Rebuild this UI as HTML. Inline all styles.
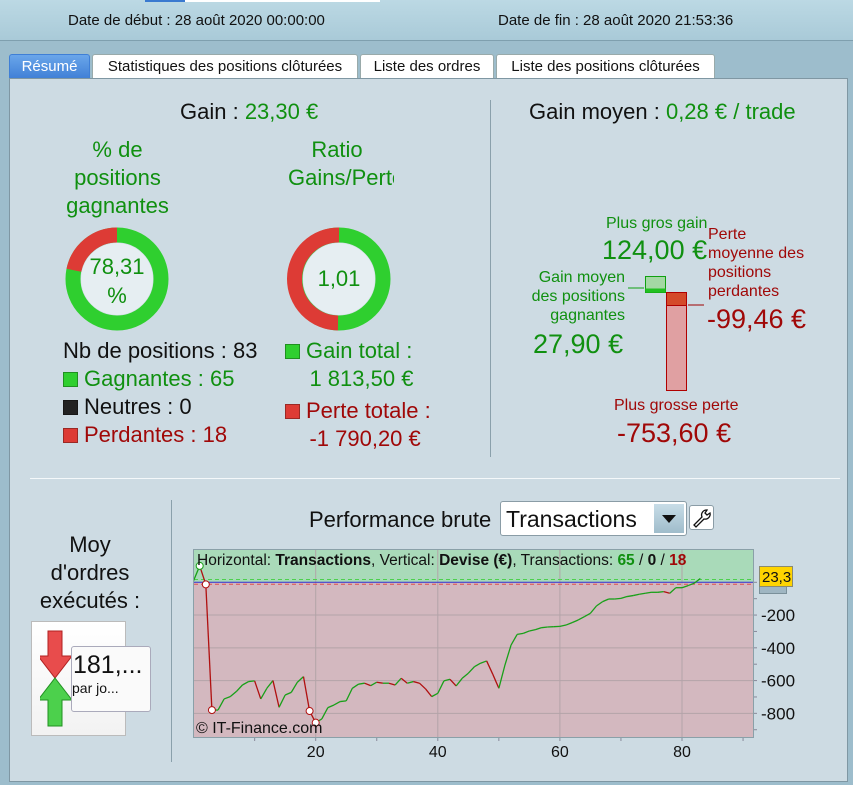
<!DOCTYPE html>
<html><head><meta charset="utf-8"><style>
*{margin:0;padding:0;box-sizing:border-box}
body{width:853px;height:785px;overflow:hidden;background:#9dbdcc;font-family:"Liberation Sans",sans-serif;position:relative}
.abs{position:absolute}
.g{color:#109010}.r{color:#a00808}.k{color:#111}
.tab{position:absolute;top:54px;height:25px;background:#fff;border:1px solid #9aa;border-bottom:none;font-size:15px;line-height:24px;text-align:center;color:#111;border-radius:3px 3px 0 0}
.sq{display:inline-block;width:15px;height:15px;border:1px solid rgba(0,0,0,.3);vertical-align:-1px;margin-right:6px}
</style></head><body>
<div class="abs" style="left:0;top:0;width:853px;height:41px;background:linear-gradient(#bcd9e4,#a9cad8);border-bottom:1px solid #7f9fae"></div>
<div class="abs" style="left:145px;top:0;width:235px;height:2px;background:#fff"></div>
<div class="abs" style="left:145px;top:0;width:40px;height:2px;background:#3a7ad0"></div>
<div class="abs k" style="left:68px;top:12px;font-size:15px">Date de début : 28 août 2020 00:00:00</div>
<div class="abs k" style="left:498px;top:12px;font-size:15px">Date de fin : 28 août 2020 21:53:36</div>
<div class="tab" style="left:9px;width:81px;background:linear-gradient(#6aa6ea,#3f7fd6);color:#fff;border-color:#3f7fd6">Résumé</div>
<div class="tab" style="left:92px;width:266px">Statistiques des positions clôturées</div>
<div class="tab" style="left:360px;width:134px">Liste des ordres</div>
<div class="tab" style="left:496px;width:219px">Liste des positions clôturées</div>
<div class="abs" style="left:9px;top:78px;width:839px;height:704px;background:#cddbe3;border:1px solid #7f97a3"></div>
<div class="abs" style="left:490px;top:100px;width:1px;height:357px;background:#8aa0ab"></div>
<div class="abs" style="left:30px;top:478px;width:810px;height:1px;background:#f4f8fa"></div>
<div class="abs" style="left:171px;top:500px;width:1px;height:262px;background:#8aa0ab"></div>

<div class="abs k" style="left:180px;top:99px;font-size:22px">Gain : <span class="g">23,30 €</span></div>
<div class="abs g" style="left:50px;top:136px;width:135px;text-align:center;font-size:22px;line-height:28px">% de positions gagnantes</div>
<div class="abs g" style="left:280px;top:136px;width:114px;text-align:center;font-size:22px;line-height:28px;overflow:hidden;white-space:nowrap">Ratio<br><span style="display:inline-block;width:114px;text-align:left;padding-left:8px">Gains/Pertes</span></div>

<svg class="abs" style="left:0;top:0" width="853" height="785">
 <g>
  <circle cx="117" cy="279" r="44" fill="none" stroke="#2fcf2f" stroke-width="15"/>
  <path d="M117 235 A44 44 0 0 0 73.9 270.2" fill="none" stroke="#dd3b35" stroke-width="15"/>
  <circle cx="117" cy="279" r="36" fill="#e6eef2"/>
 </g>
 <g>
  <circle cx="339" cy="279" r="44" fill="none" stroke="#2fcf2f" stroke-width="15"/>
  <path d="M339 235 A44 44 0 0 0 338 323" fill="none" stroke="#dd3b35" stroke-width="15"/>
  <circle cx="339" cy="279" r="36" fill="#e6eef2"/>
 </g>
 <g>
  <rect x="645.5" y="276.5" width="20" height="16" fill="#a4d8a4" stroke="#10a010"/>
  <rect x="645.5" y="288.5" width="20" height="4" fill="#22c022"/>
  <line x1="628" y1="288" x2="644" y2="288" stroke="#10a010"/>
  <rect x="666.5" y="292.5" width="20" height="98" fill="#e0a0a2" stroke="#b00000"/>
  <rect x="666.5" y="292.5" width="20" height="13" fill="#d44a2a" stroke="#b00000"/>
  <line x1="688" y1="305" x2="704" y2="305" stroke="#a00000"/>
 </g>
</svg>
<div class="abs g" style="left:77px;top:252px;width:80px;text-align:center;font-size:22px;line-height:29px">78,31<br>%</div>
<div class="abs g" style="left:309px;top:266px;width:60px;text-align:center;font-size:22px">1,01</div>

<div class="abs k" style="left:63px;top:338px;font-size:22px">Nb de positions : 83</div>
<div class="abs g" style="left:63px;top:366px;font-size:22px"><span class="sq" style="background:#2fcf2f"></span>Gagnantes : 65</div>
<div class="abs k" style="left:63px;top:394px;font-size:22px"><span class="sq" style="background:#222"></span>Neutres : 0</div>
<div class="abs r" style="left:63px;top:422px;font-size:22px"><span class="sq" style="background:#dd3b35"></span>Perdantes : 18</div>
<div class="abs g" style="left:285px;top:337px;font-size:22px;line-height:28px"><span class="sq" style="background:#2fcf2f"></span>Gain total :<br>&nbsp;&nbsp;&nbsp;&nbsp;1 813,50 €</div>
<div class="abs r" style="left:285px;top:397px;font-size:22px;line-height:28px"><span class="sq" style="background:#dd3b35"></span>Perte totale :<br>&nbsp;&nbsp;&nbsp;&nbsp;-1 790,20 €</div>

<div class="abs k" style="left:529px;top:99px;font-size:22px">Gain moyen : <span class="g">0,28 € / trade</span></div>
<div class="abs g" style="left:606px;top:215px;font-size:16px">Plus gros gain</div>
<div class="abs g" style="left:602px;top:235px;font-size:27px">124,00 €</div>
<div class="abs g" style="left:515px;top:268px;width:110px;text-align:right;font-size:16px;line-height:19px">Gain moyen des positions gagnantes</div>
<div class="abs g" style="left:533px;top:329px;font-size:27px">27,90 €</div>
<div class="abs r" style="left:708px;top:225px;width:105px;font-size:16px;line-height:19px">Perte moyenne des positions perdantes</div>
<div class="abs r" style="left:707px;top:304px;font-size:27px">-99,46 €</div>
<div class="abs r" style="left:614px;top:397px;font-size:16px">Plus grosse perte</div>
<div class="abs r" style="left:617px;top:418px;font-size:27px">-753,60 €</div>

<div class="abs k" style="left:25px;top:531px;width:130px;text-align:center;font-size:22px;line-height:28px">Moy<br>d'ordres<br>exécutés :</div>
<div class="abs" style="left:31px;top:621px;width:95px;height:115px;background:linear-gradient(#fff,#f2f2f2);border:1px solid #bbb"></div>
<svg class="abs" style="left:40px;top:628px" width="40" height="100">
 <path d="M8 3h14v25h10L15 50 -2 28h10z" fill="#e84c4c" stroke="#b02020"/>
 <path d="M15 50L32 72h-10v26H8V72h-10z" fill="#4cd04c" stroke="#209020"/>
</svg>
<div class="abs" style="left:71px;top:646px;width:80px;height:66px;background:#fafafa;border:1px solid #aab;border-radius:3px;overflow:hidden">
 <div class="k" style="font-size:25px;margin:4px 0 0 1px">181,...</div>
 <div class="k" style="font-size:14px;margin-left:0">par jo...</div>
</div>

<div class="abs k" style="left:309px;top:507px;font-size:22px">Performance brute</div>
<div class="abs" style="left:500px;top:501px;width:187px;height:35px;background:#fff;border:1px solid #8a9ca6;border-radius:3px">
 <span class="k" style="position:absolute;left:5px;top:4px;font-size:23px">Transactions</span>
 <span style="position:absolute;right:2px;top:2px;width:30px;height:29px;background:linear-gradient(#c8dde8,#9fbccb)"><span style="position:absolute;left:8px;top:11px;border-left:7px solid transparent;border-right:7px solid transparent;border-top:8px solid #111"></span></span>
</div>
<div class="abs" style="left:689px;top:505px;width:25px;height:25px;background:#fff;border:1px solid #8a9ca6;border-radius:3px">
 <svg width="23" height="23" style="position:absolute;left:0;top:0"><path d="M4 19 L12 11 A5 5 0 0 1 17 4 L15 7 L17 9 L20 7 A5 5 0 0 1 14 13 L6 21 Z" fill="#fff" stroke="#111" stroke-width="1.3"/></svg>
</div>

<svg id="chart" class="abs" style="left:0;top:0" width="853" height="785"></svg>
<script>
const tradeIndex=[0,1,2,3,4,5,6,7,8,9,10,11,12,13,14,15,16,17,18,19,20,21,22,23,24,25,26,27,28,29,30,31,32,33,34,35,36,37,38,39,40,41,42,43,44,45,46,47,48,49,50,51,52,53,54,55,56,57,58,59,60,61,62,63,64,65,66,67,68,69,70,71,72,73,74,75,76,77,78,79,80,81,82,83];
const equity=[10,100,-13,-780,-780,-712,-698,-667,-627,-606,-602,-712,-647,-600,-763,-688,-672,-610,-576,-786,-857,-834,-765,-749,-728,-724,-647,-622,-616,-631,-610,-616,-616,-627,-586,-616,-606,-616,-651,-698,-678,-602,-592,-633,-586,-555,-515,-494,-480,-561,-647,-505,-383,-318,-312,-297,-289,-277,-273,-271,-269,-261,-246,-230,-210,-189,-144,-118,-102,-102,-98,-87,-81,-73,-67,-61,-61,-57,-67,-33,-33,-20,-6,23.3];
const markedPoints=[1,2,3,19,20];
const xTicks=[20,40,60,80];
const yTicks=[-200,-400,-600,-800];
const finalValue="23,3";
const NS="http://www.w3.org/2000/svg";
const svg=document.getElementById('chart');
const L=194,R=753,T=550,B=737;
const xs=i=>193.6+6.105*i;
const ys=v=>582.3-0.1638*v;
function mk(tag,attrs,parent){const e=document.createElementNS(NS,tag);for(const k in attrs)e.setAttribute(k,attrs[k]);(parent||svg).appendChild(e);return e;}
let e;
e=mk('rect',{x:L,y:T,width:R-L,height:ys(0)-T,fill:'#a9dab9'});


e=mk('rect',{x:L,y:ys(0),width:R-L,height:B-ys(0),fill:'#d3b8bf'});


for(let v=10;v<=90;v+=10){
 const x=xs(v);
 if(v%20===0){e=mk('line',{x1:x,y1:T,x2:x,y2:B,stroke:'#b3a3a8'});
 
 }
 e=mk('line',{x1:x,y1:B,x2:x,y2:B+4,stroke:'#889'});
 
 
}
for(let v=0;v>=-900;v-=100){
 const y=ys(v);
 e=mk('line',{x1:R,y1:y,x2:R+4,y2:y,stroke:'#889'});
 
 
}
yTicks.forEach(v=>{
 e=mk('line',{x1:L,y1:ys(v),x2:R,y2:ys(v),stroke:'#b3a3a8'});
 
 
 e=mk('text',{x:761,y:ys(v)+6,'font-size':17,fill:'#111','font-family':'Liberation Sans'});
 e.textContent=String(v);
 
 
});
xTicks.forEach(v=>{
 e=mk('text',{x:xs(v),y:757,'font-size':16,fill:'#111','text-anchor':'middle','font-family':'Liberation Sans'});
 e.textContent=v;
 
 
});
e=mk('line',{x1:L,y1:ys(equity[equity.length-1])+1,x2:R,y2:ys(equity[equity.length-1])+1,stroke:'#4cd04c','stroke-dasharray':'4,3'});


e=mk('line',{x1:L,y1:ys(0)+2,x2:R,y2:ys(0)+2,stroke:'#e05050','stroke-dasharray':'4,3'});


e=mk('line',{x1:L,y1:ys(0),x2:R,y2:ys(0),stroke:'#3030d0'});


for(let k=1;k<equity.length;k++){
 const up=equity[k]>=equity[k-1];
 e=mk('line',{x1:xs(tradeIndex[k-1]),y1:ys(equity[k-1]),x2:xs(tradeIndex[k]),y2:ys(equity[k]),stroke:up?'#18a018':'#b01010','stroke-width':1.3});
 
 
}
markedPoints.forEach(i=>{
 e=mk('circle',{cx:xs(tradeIndex[i]),cy:ys(equity[i]),r:3.5,fill:'#fff',stroke:i===1?'#18a018':'#b01010'});
 
 
});
e=mk('rect',{x:L-0.5,y:T-0.5,width:R-L+1,height:B-T+1,fill:'none',stroke:'#8aa0a8'});


e=mk('text',{x:197,y:565,'font-size':15.5,fill:'#111','font-family':'Liberation Sans'});
e.innerHTML='Horizontal: <tspan font-weight="bold">Transactions</tspan>, Vertical: <tspan font-weight="bold">Devise (€)</tspan>, Transactions: <tspan font-weight="bold" fill="#109010">65</tspan> / <tspan font-weight="bold">0</tspan> / <tspan font-weight="bold" fill="#a00808">18</tspan>';


e=mk('text',{x:196,y:733,'font-size':16,fill:'#111','font-family':'Liberation Sans'});
e.textContent='© IT-Finance.com';


e=mk('rect',{x:759.5,y:586.5,width:27,height:7,fill:'#9fb6c2',stroke:'#7a909a'});


e=mk('rect',{x:759.5,y:566.5,width:33,height:20,fill:'#ffd400',stroke:'#8a8a70'});


e=mk('text',{x:762,y:582,'font-size':15,fill:'#111','font-family':'Liberation Sans'});
e.textContent=finalValue;


</script>
</body></html>
